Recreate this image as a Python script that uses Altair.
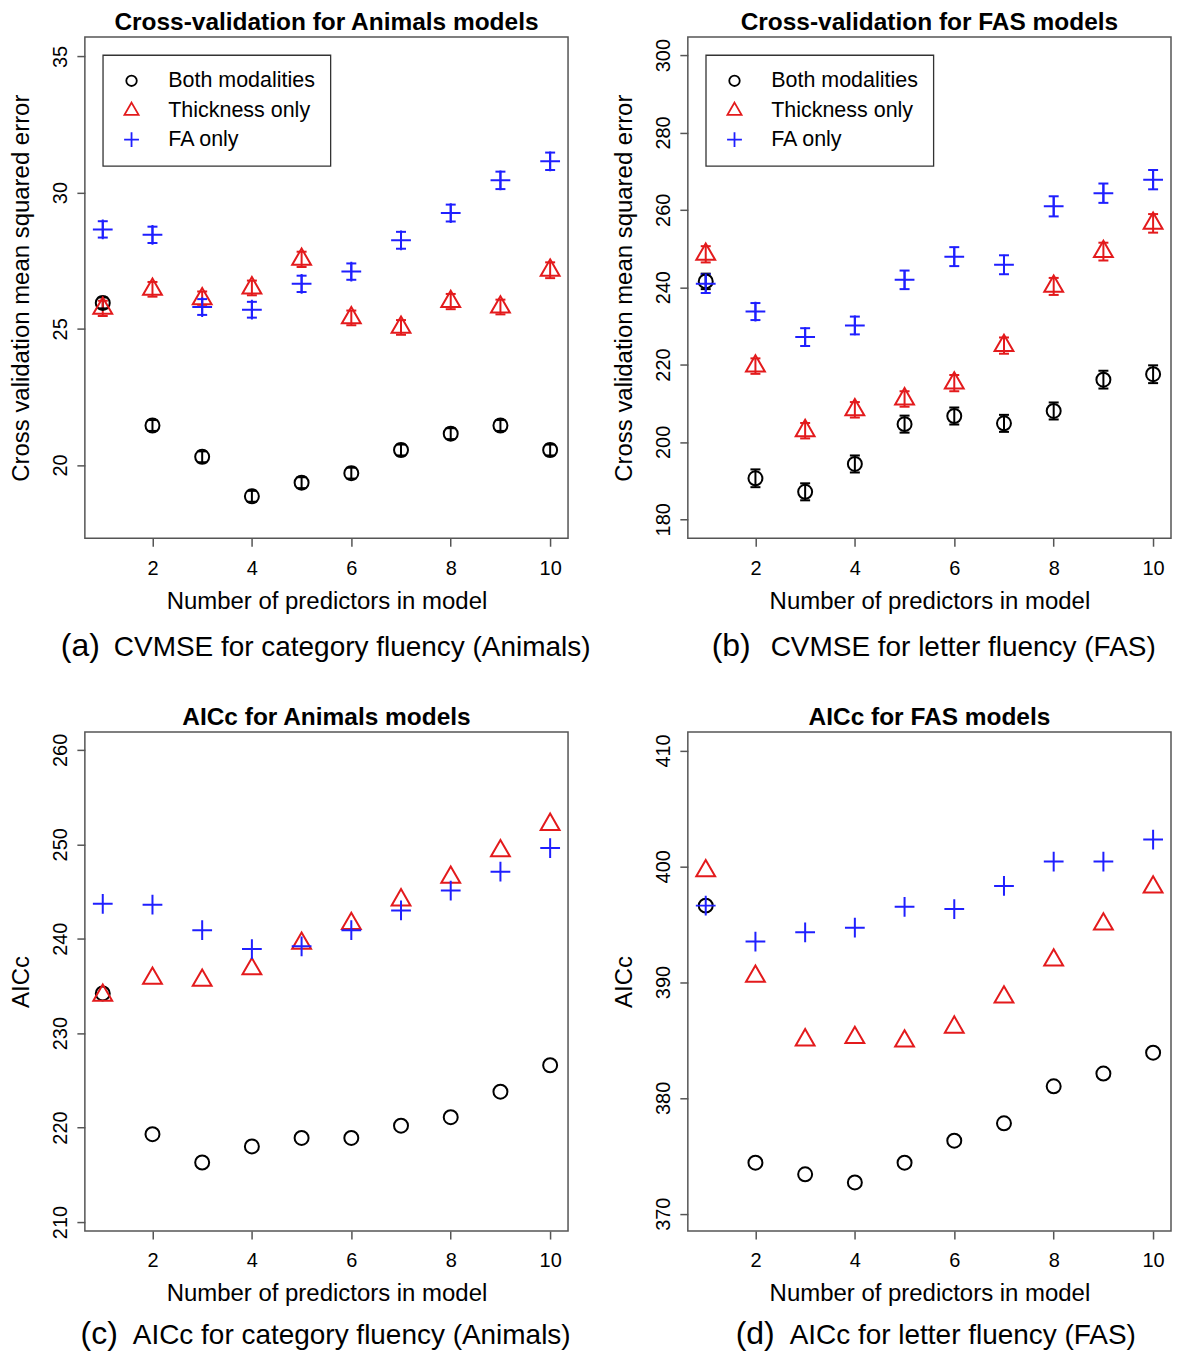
import altair as alt
import pandas as pd

FONT = "Liberation Sans"

n_pred = [1, 2, 3, 4, 5, 6, 7, 8, 9, 10]
series_names = ["Both modalities", "Thickness only", "FA only"]
series_colors = ["#000000", "#E31A1C", "#1F1FFF"]
x_ticks = [2, 4, 6, 8, 10]

# (a) CVMSE, category fluency (Animals)
a_both = [25.95, 21.45, 20.30, 18.85, 19.35, 19.70, 20.55, 21.15, 21.45, 20.55]
a_both_err = [0.20, 0.20, 0.20, 0.20, 0.20, 0.20, 0.20, 0.20, 0.20, 0.20]
a_thick = [25.75, 26.45, 26.10, 26.50, 27.55, 25.40, 25.05, 26.00, 25.80, 27.15]
a_thick_err = [0.28, 0.27, 0.27, 0.27, 0.28, 0.27, 0.27, 0.28, 0.27, 0.29]
a_fa = [28.65, 28.45, 25.80, 25.70, 26.65, 27.10, 28.25, 29.25, 30.45, 31.15]
a_fa_err = [0.30, 0.30, 0.29, 0.29, 0.30, 0.30, 0.31, 0.31, 0.32, 0.32]
a_yticks = [20, 25, 30, 35]

# (b) CVMSE, letter fluency (FAS)
b_both = [241.5, 190.6, 187.1, 194.3, 204.6, 206.7, 204.8, 208.0, 216.1, 217.5]
b_both_err = [2.0, 2.3, 2.2, 2.2, 2.2, 2.2, 2.2, 2.2, 2.3, 2.3]
b_thick = [248.5, 219.6, 202.9, 208.3, 211.1, 215.2, 224.9, 240.2, 249.2, 256.5]
b_thick_err = [2.1, 2.0, 2.0, 2.0, 2.0, 2.1, 2.1, 2.2, 2.3, 2.4]
b_fa = [240.9, 233.7, 227.1, 230.1, 241.9, 247.9, 245.8, 260.9, 264.3, 267.8]
b_fa_err = [2.4, 2.2, 2.3, 2.3, 2.4, 2.45, 2.45, 2.6, 2.5, 2.5]
b_yticks = [180, 200, 220, 240, 260, 280, 300]

# (c) AICc, Animals
c_both = [234.2, 219.3, 216.3, 218.0, 218.9, 218.9, 220.2, 221.1, 223.8, 226.6]
c_thick = [234.0, 235.8, 235.6, 236.8, 239.5, 241.6, 244.1, 246.5, 249.3, 252.1]
c_fa = [243.7, 243.6, 240.9, 238.9, 239.2, 240.9, 243.0, 245.1, 247.1, 249.6]
c_yticks = [210, 220, 230, 240, 250, 260]

# (d) AICc, FAS
d_both = [396.6, 374.4, 373.4, 372.7, 374.4, 376.3, 377.8, 381.0, 382.1, 383.9]
d_thick = [399.6, 390.5, 385.0, 385.2, 384.9, 386.1, 388.7, 391.9, 395.0, 398.2]
d_fa = [396.6, 393.5, 394.3, 394.7, 396.5, 396.3, 398.3, 400.4, 400.4, 402.3]
d_yticks = [370, 380, 390, 400, 410]

# R-like plotting symbols (open circle, open triangle, plus)
circle_path = "M0.7,0A0.7,0.7,0,1,1,-0.7,0A0.7,0.7,0,1,1,0.7,0Z"
triangle_path = "M0,-1.089L0.943,0.544L-0.943,0.544Z"
plus_path = "M-0.99,0L0.99,0M0,-0.99L0,0.99"
shape_paths = [circle_path, triangle_path, plus_path]

W = 484


def long_df(vals_list, errs_list):
    rows = []
    for name, col, vals, errs in zip(series_names, series_colors, vals_list, errs_list):
        for i, (n, v) in enumerate(zip(n_pred, vals)):
            e = errs[i] if errs is not None else 0.0
            rows.append({"n": n, "value": v, "lo": v - e, "hi": v + e,
                         "series": name, "col": col})
    return pd.DataFrame(rows)


def panel(df, ydomain, yticks, ytitle, title, cap_label, cap_text, height,
          cap_lx, cap_tx, cap_dy, with_err, with_legend):
    xscale = alt.Scale(domain=[0.64, 10.36], nice=False, zero=False)
    yscale = alt.Scale(domain=ydomain, nice=False, zero=False)
    xaxis = alt.Axis(values=x_ticks, title="Number of predictors in model",
                     titleX=W / 2, titleY=70, titleAlign="center",
                     titleBaseline="alphabetic")
    yaxis = alt.Axis(values=yticks, title=ytitle, titleX=-56, titleY=height / 2,
                     titleAlign="center", titleBaseline="alphabetic", titleAngle=270)
    cscale = alt.Scale(domain=series_names, range=series_colors)
    sscale = alt.Scale(domain=series_names, range=shape_paths)
    x = alt.X("n:Q", scale=xscale, axis=xaxis)

    layers = []
    if with_err:
        base = alt.Chart(df)
        ecol = alt.Color("col:N", scale=None)
        rules = base.mark_rule(strokeWidth=2).encode(
            x=x, y=alt.Y("lo:Q", scale=yscale, axis=yaxis), y2="hi:Q", color=ecol)
        lo_caps = base.mark_tick(orient="horizontal", size=10, thickness=2, opacity=1).encode(
            x=x, y=alt.Y("lo:Q", scale=yscale, axis=yaxis), color=ecol)
        hi_caps = base.mark_tick(orient="horizontal", size=10, thickness=2, opacity=1).encode(
            x=x, y=alt.Y("hi:Q", scale=yscale, axis=yaxis), color=ecol)
        layers += [rules, lo_caps, hi_caps]

    if with_legend:
        leg = alt.Legend(title=None, orient="none", legendX=18, legendY=18,
                         direction="vertical", strokeColor="#333333", fillColor="white",
                         padding=15, labelFontSize=21.5, labelFont=FONT, labelColor="black",
                         symbolSize=225, symbolStrokeWidth=1.8, symbolOffset=3,
                         labelOffset=26, rowPadding=6, labelLimit=400)
    else:
        leg = None
    pts = alt.Chart(df).mark_point(filled=False, size=400, strokeWidth=2, opacity=1).encode(
        x=x, y=alt.Y("value:Q", scale=yscale, axis=yaxis),
        color=alt.Color("series:N", scale=cscale, legend=leg),
        shape=alt.Shape("series:N", scale=sscale, legend=leg))
    layers.append(pts)

    cap_df = pd.DataFrame({"label": [cap_label], "text": [cap_text]})
    cap1 = alt.Chart(cap_df).mark_text(font=FONT, fontSize=32, align="right",
                                       baseline="alphabetic", color="black").encode(
        x=alt.value(cap_lx), y=alt.value(height + cap_dy), text="label:N")
    cap2 = alt.Chart(cap_df).mark_text(font=FONT, fontSize=28, align="left",
                                       baseline="alphabetic", color="black").encode(
        x=alt.value(cap_tx), y=alt.value(height + cap_dy), text="text:N")
    layers += [cap1, cap2]

    return alt.layer(*layers).properties(width=W, height=height, title=title)


pa = panel(long_df([a_both, a_thick, a_fa], [a_both_err, a_thick_err, a_fa_err]),
           [17.31, 35.71], a_yticks, "Cross validation mean squared error",
           "Cross-validation for Animals models", "(a)",
           "CVMSE for category fluency (Animals)", 502, 15, 29, 118, True, True)
pb = panel(long_df([b_both, b_thick, b_fa], [b_both_err, b_thick_err, b_fa_err]),
           [175.1, 304.65], b_yticks, "Cross validation mean squared error",
           "Cross-validation for FAS models", "(b)",
           "CVMSE for letter fluency (FAS)", 502, 63, 83, 118, True, True)
pc = panel(long_df([c_both, c_thick, c_fa], [None, None, None]),
           [209.04, 261.9], c_yticks, "AICc",
           "AICc for Animals models", "(c)",
           "AICc for category fluency (Animals)", 500, 33, 48, 113, False, False)
pdd = panel(long_df([d_both, d_thick, d_fa], [None, None, None]),
            [368.5, 411.6], d_yticks, "AICc",
            "AICc for FAS models", "(d)",
            "AICc for letter fluency (FAS)", 500, 87, 102, 113, False, False)

chart = alt.concat(pa, pb, pc, pdd, columns=2,
                   spacing=alt.RowColnumber(row=194, column=120), bounds="flush")
chart = chart.resolve_scale(color="independent", shape="independent").resolve_legend(
    color="independent", shape="independent")
chart = chart.properties(padding={"left": 1, "top": 0, "right": 0, "bottom": 0})
chart = chart.configure_view(stroke="#555555", strokeWidth=1.5).configure_axis(
    domain=False, grid=False, tickColor="#555555", tickWidth=1.5, tickSize=8,
    labelFont=FONT, labelFontSize=20, labelColor="black", labelFlush=False,
    labelOverlap=False, titleFont=FONT, titleFontSize=24, titleFontWeight="normal",
    titleColor="black").configure_axisX(
    labelBaseline="alphabetic", labelPadding=28).configure_axisY(
    labelAngle=270, labelAlign="center", labelBaseline="alphabetic", labelPadding=10).configure_title(
    font=FONT, fontSize=24.5, fontWeight="bold", anchor="middle", baseline="alphabetic",
    offset=1.5, color="black").configure_legend(strokeWidth=1.3)

chart.save("out.html", embed_options={"renderer": "svg", "actions": False})
